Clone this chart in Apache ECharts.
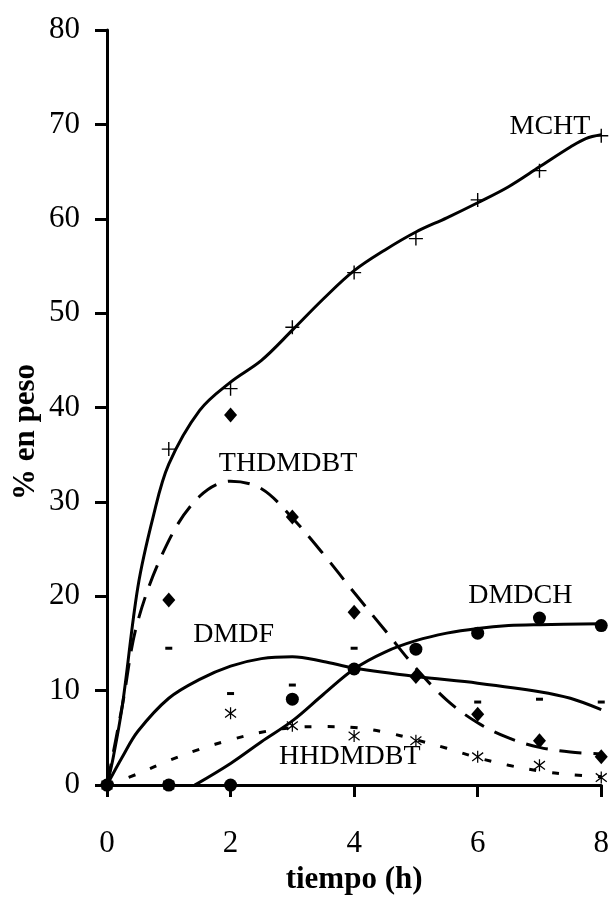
<!DOCTYPE html>
<html>
<head>
<meta charset="utf-8">
<script src="https://cdn.jsdelivr.net/npm/echarts@6/dist/echarts.min.js"></script>
<style>
html,body{margin:0;padding:0;background:#fff;}
#chart{width:612px;height:900px;}
</style>
</head>
<body>
<div id="chart"></div>
<script>
// ---- measured data points ----
var hours = [0, 1, 2, 3, 4, 5, 6, 7, 8];
var mchtPts    = [0, 35.6, 42.0, 48.5, 54.3, 57.9, 62.0, 65.1, 68.8];
var thdmdbtPts = [0, 19.6, 39.2, 28.4, 18.3, 11.5, 7.5, 4.7, 3.0];
var dmdfPts    = [0, 14.5, 9.7, 10.6, 14.5, 11.5, 8.8, 9.1, 8.8];
var dmdchPts   = [0, 0, 0, 9.1, 12.3, 14.4, 16.1, 17.7, 16.9];
var hhdmdbtPts = [0, 0, 7.6, 6.3, 5.2, 4.7, 3.0, 2.1, 0.8];

// ---- fitted curves ----
var mchtCurveX = [0, 0.1, 0.25, 0.5, 0.75, 1, 1.5, 2, 2.5, 3, 3.5, 4, 4.5, 5, 5.5, 6, 6.5, 7, 7.5, 7.75, 8];
var mchtCurveY = [0, 2.9, 8.5, 21, 28.5, 34, 39.7, 42.7, 45, 48.2, 51.5, 54.5, 56.7, 58.6, 60.1, 61.7, 63.4, 65.5, 67.6, 68.5, 68.9];

var thdCurveX = [0, 0.25, 0.5, 1, 1.5, 2, 2.5, 3, 3.5, 4, 4.5, 5, 5.5, 6, 6.5, 7, 7.5, 8];
var thdCurveY = [0, 8.5, 17.4, 25.9, 30.6, 32.2, 31.4, 28.3, 24.5, 20.4, 16.4, 12.4, 9.0, 6.6, 5.0, 4.0, 3.5, 3.3];

var dmdfCurveX = [0, 0.25, 0.5, 1, 1.5, 2, 2.5, 3, 3.5, 4, 5, 6, 7, 7.5, 8];
var dmdfCurveY = [0, 3.0, 5.7, 9.2, 11.2, 12.6, 13.4, 13.6, 13.1, 12.4, 11.5, 10.8, 9.9, 9.2, 8.0];

var dmdchCurveX = [1.42, 2, 2.5, 3, 3.5, 4, 4.5, 5, 5.5, 6, 6.5, 7, 8];
var dmdchCurveY = [0, 2.3, 4.6, 6.8, 9.6, 12.3, 14.1, 15.3, 16.1, 16.6, 16.9, 17.0, 17.1];

var hhCurveX = [0, 0.5, 1, 1.5, 2, 2.5, 3, 3.5, 4, 4.5, 5, 5.5, 6, 6.5, 7, 7.5, 8];
var hhCurveY = [0, 1.2, 2.6, 3.8, 4.8, 5.6, 6.1, 6.2, 6.1, 5.6, 4.8, 3.9, 2.9, 2.1, 1.5, 1.1, 0.9];

// ---- series labels (text placed in data coordinates) ----
var labelNames = ['MCHT', 'THDMDBT', 'DMDF', 'DMDCH', 'HHDMDBT'];
var labelX = [7.17, 2.93, 2.05, 6.69, 3.93];
var labelY = [69.8, 34.1, 15.95, 20.1, 3.06];

// ---- axes ----
var xTicks = [0, 2, 4, 6, 8];
var yTicks = [0, 10, 20, 30, 40, 50, 60, 70, 80];

function zip(a, b) { return a.map(function (v, i) { return [v, b[i]]; }); }

var SERIF = 'Liberation Serif';
var chart = echarts.init(document.getElementById('chart'), null, {renderer: 'canvas'});

var plusPath = 'path://M-0.7,-7 L0.7,-7 L0.7,-0.7 L7,-0.7 L7,0.7 L0.7,0.7 L0.7,7 L-0.7,7 L-0.7,0.7 L-7,0.7 L-7,-0.7 L-0.7,-0.7 Z';
var starPath = 'path://M0,-6 L0,6 M-5,-4.2 L5,4.2 M-5,4.2 L5,-4.2';

function curve(name, xs, ys, type) {
  return {
    name: name, type: 'line', data: zip(xs, ys), smooth: 0.35,
    showSymbol: false, silent: true, z: 2,
    lineStyle: {color: '#000', width: 3, type: type || 'solid', cap: 'butt', opacity: 1}
  };
}
function pts(name, ys, symbol, size, stroked) {
  return {
    name: name, type: 'scatter', data: zip(hours, ys), symbol: symbol, symbolSize: size, z: 5,
    itemStyle: stroked ? {color: 'none', borderColor: '#000', borderWidth: 1.3, opacity: 1}
                       : {color: '#000', opacity: 1}
  };
}

var option = {
  backgroundColor: '#fff',
  animation: false,
  grid: {left: 107, right: 8, top: 30, bottom: 109, containLabel: false},
  xAxis: {
    type: 'value', min: 0, max: 8, interval: 2,
    name: 'tiempo (h)', nameLocation: 'middle', nameGap: 74,
    nameTextStyle: {fontFamily: SERIF, fontSize: 31, fontWeight: 'bold', color: '#000'},
    axisLine: {show: true, onZero: false, lineStyle: {color: '#000', width: 3}},
    axisTick: {show: true, inside: false, length: 12, lineStyle: {color: '#000', width: 3}},
    axisLabel: {margin: 43, fontFamily: SERIF, fontSize: 31, color: '#000',
      formatter: function (v) { return xTicks.indexOf(v) >= 0 ? String(v) : ''; }},
    splitLine: {show: false}
  },
  yAxis: {
    type: 'value', min: 0, max: 80, interval: 10,
    axisLine: {show: true, onZero: false, lineStyle: {color: '#000', width: 3}},
    axisTick: {show: true, inside: false, length: 12, lineStyle: {color: '#000', width: 3}},
    axisLabel: {margin: 27, fontFamily: SERIF, fontSize: 31, color: '#000',
      formatter: function (v) { return yTicks.indexOf(v) >= 0 ? String(v) : ''; }},
    splitLine: {show: false}
  },
  graphic: [{
    type: 'text', x: 26, y: 432, rotation: Math.PI / 2,
    style: {text: '% en peso', fontFamily: SERIF, fontSize: 31, fontWeight: 'bold', fill: '#000',
      align: 'center', verticalAlign: 'middle'}
  }],
  series: [
    curve('MCHT fit', mchtCurveX, mchtCurveY, 'solid'),
    curve('THDMDBT fit', thdCurveX, thdCurveY, [22, 12]),
    curve('DMDF fit', dmdfCurveX, dmdfCurveY, 'solid'),
    curve('DMDCH fit', dmdchCurveX, dmdchCurveY, 'solid'),
    curve('HHDMDBT fit', hhCurveX, hhCurveY, [7, 16]),
    pts('MCHT', mchtPts, plusPath, 14, false),
    pts('THDMDBT', thdmdbtPts, 'diamond', [13, 15], false),
    pts('DMDF', dmdfPts, 'rect', [7, 3], false),
    pts('DMDCH', dmdchPts, 'circle', 13, false),
    pts('HHDMDBT', hhdmdbtPts, starPath, [11, 12], true),
    {
      name: 'labels', type: 'scatter', data: zip(labelX, labelY).map(function (p, i) {
        return {value: p, name: labelNames[i]};
      }),
      symbolSize: 0, z: 6, silent: true,
      itemStyle: {opacity: 1},
      label: {show: true, position: 'inside', formatter: '{b}', fontFamily: SERIF, fontSize: 28,
        color: '#000', opacity: 1, textBorderWidth: 0, textBorderColor: 'transparent'}
    }
  ]
};
chart.setOption(option);
</script>
</body>
</html>
